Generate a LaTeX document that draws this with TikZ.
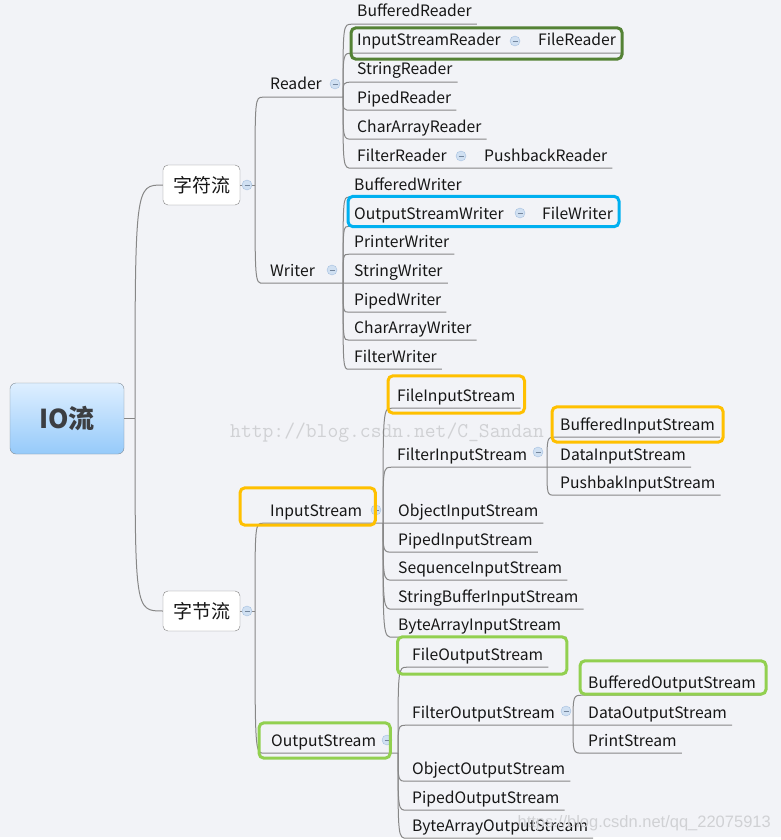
\documentclass[tikz,border=0pt]{standalone}
\usepackage{fontspec}
\setmainfont{Noto Sans CJK SC}
\newfontfamily\wmsans{Liberation Sans}
\usetikzlibrary{fit}

\definecolor{paper}{RGB}{242,243,247}
\definecolor{ink}{RGB}{22,22,22}
\definecolor{linkgray}{RGB}{135,135,135}
\definecolor{topicline}{RGB}{130,130,130}
\definecolor{roottop}{RGB}{222,239,255}
\definecolor{rootbot}{RGB}{150,202,250}
\definecolor{rootline}{RGB}{130,140,150}
\definecolor{rootink}{RGB}{60,62,66}
\definecolor{foldfill}{RGB}{208,224,242}
\definecolor{foldline}{RGB}{165,192,224}
\definecolor{hldark}{RGB}{84,130,53}
\definecolor{hlblue}{RGB}{0,176,240}
\definecolor{hlorange}{RGB}{255,192,0}
\definecolor{hllime}{RGB}{146,208,80}
\definecolor{wmgray}{RGB}{208,209,212}

\pgfdeclarelayer{back}
\pgfdeclarelayer{front}
\pgfsetlayers{back,main,front}

\tikzset{
  rootbox/.style={rounded corners=6pt, draw=rootline, top color=roottop, bottom color=rootbot,
    minimum width=114pt, minimum height=71pt, font=\fontsize{26}{30}\selectfont\bfseries, text=rootink},
  topic/.style={rounded corners=5pt, draw=topicline, fill=white, minimum width=77pt,
    minimum height=40pt, font=\fontsize{19}{22}\selectfont, text=ink},
  leaf/.style={anchor=base west, inner xsep=5pt, inner ysep=0pt, text height=12pt, text depth=7pt,
    font=\fontsize{15.7}{18}\selectfont, text=ink},
  mid/.style={leaf, inner xsep=7pt},
  link/.style={draw=linkgray, line width=1pt},
  collapse/.style={circle, draw=foldline, fill=foldfill, minimum size=10pt, inner sep=0pt,
    path picture={\draw[foldline!70!black, line width=0.8pt]
      ([xshift=-2.5pt]path picture bounding box.center) -- ([xshift=2.5pt]path picture bounding box.center);}},
  hlbox/.style={draw=#1, line width=3pt, rounded corners=5pt, inner sep=0pt},
  wmark/.style={inner sep=0pt, text=wmgray}
}

\begin{document}
\begin{tikzpicture}[x=1pt,y=-1pt]
    \begin{pgfonlayer}{back}
    \fill[paper] (0,0) rectangle (781,840);
    \fill[white] (0,837) rectangle (781,840);
    \node[wmark, anchor=base west, font=\ttfamily\fontsize{21}{24}\selectfont] (wmtop) at (230,437) {http://blog.csdn.net/C\_Sandan};
    \end{pgfonlayer}
    \useasboundingbox (0,0) rectangle (781,840);

    % root and the two main topics
    \node[rootbox] (root) at (67,418.5) {IO流};
    \node[topic] (zf) at (201.5,185) {字符流};
    \node[topic] (zj) at (201.5,611) {字节流};
    \coordinate (jroot) at (135,418.5);
    \coordinate (jzf) at (255,185);
    \coordinate (jzj) at (255,611);

    % Reader / Writer
    \node[mid] (rd) at (263,90) {Reader};
    \node[mid] (wr) at (263,276) {Writer};
    \coordinate (jrd) at (343,97);
    \coordinate (jwr) at (343,283);

    \node[leaf] (br) at (352,17) {BufferedReader};
    \node[leaf] (isr) at (352,46) {InputStreamReader};
    \node[leaf] (fr) at (533,46) {FileReader};
    \node[leaf] (sr) at (352,75) {StringReader};
    \node[leaf] (pr) at (352,103) {PipedReader};
    \node[leaf] (car) at (352,132) {CharArrayReader};
    \node[leaf] (flr) at (352,161) {FilterReader};
    \node[leaf] (pbr) at (479,161) {PushbackReader};

    \node[leaf] (bw) at (349,190) {BufferedWriter};
    \node[leaf] (osw) at (349,219) {OutputStreamWriter};
    \node[leaf] (fw) at (537,219) {FileWriter};
    \node[leaf] (pw) at (349,247) {PrinterWriter};
    \node[leaf] (sw) at (349,276) {StringWriter};
    \node[leaf] (pdw) at (349,305) {PipedWriter};
    \node[leaf] (caw) at (349,333) {CharArrayWriter};
    \node[leaf] (flw) at (349,362) {FilterWriter};

    % InputStream / OutputStream
    \node[mid] (ist) at (263,516) {InputStream};
    \node[mid] (ost) at (264,746) {OutputStream};
    \coordinate (jist) at (383,523);
    \coordinate (jost) at (398,753);
    \coordinate (jflis) at (547,467);
    \coordinate (jflos) at (573,725);

    \node[leaf] (fis) at (392,401) {FileInputStream};
    \node[leaf] (flis) at (392,460) {FilterInputStream};
    \node[leaf] (bis) at (555,430) {BufferedInputStream};
    \node[leaf] (dis) at (555,460) {DataInputStream};
    \node[leaf] (pis) at (555,488) {PushbakInputStream};
    \node[leaf] (ois) at (393,516) {ObjectInputStream};
    \node[leaf] (pdis) at (393,545) {PipedInputStream};
    \node[leaf] (sqis) at (393,573) {SequenceInputStream};
    \node[leaf] (sbis) at (393,602) {StringBufferInputStream};
    \node[leaf] (bais) at (393,630) {ByteArrayInputStream};

    \node[leaf] (fos) at (407,660) {FileOutputStream};
    \node[leaf] (flos) at (407,718) {FilterOutputStream};
    \node[leaf] (bos) at (583,688) {BufferedOutputStream};
    \node[leaf] (dos) at (583,718) {DataOutputStream};
    \node[leaf] (ps) at (583,746) {PrintStream};
    \node[leaf] (oos) at (407,774) {ObjectOutputStream};
    \node[leaf] (pdos) at (407,803) {PipedOutputStream};
    \node[leaf] (baos) at (407,831) {ByteArrayOutputStream};

    % connectors
    \draw[link] (root.east) -- (jroot);
    \draw[link] (jroot) .. controls (jroot |- zf.west) .. (zf.west);
    \draw[link] (jroot) .. controls (jroot |- zj.west) .. (zj.west);
    \draw[link] (zf.east) -- (jzf);
    \draw[link] (zj.east) -- (jzj);
    \draw[link] (jzf) .. controls (jzf |- rd.south west) .. (rd.south west) -- (jrd);
    \draw[link] (jzf) .. controls (jzf |- wr.south west) .. (wr.south west) -- (sw.south east);
    \draw[link] (jzj) .. controls (jzj |- ist.south west) .. (ist.south west) -- (ois.south east);
    \draw[link] (jzj) .. controls (jzj |- ost.south west) .. (ost.south west) -- (jost);

    \draw[link] (jrd) .. controls (jrd |- br.south west) .. (br.south west) -- (br.south east);
    \draw[link] (jrd) .. controls (jrd |- isr.south west) .. (isr.south west) -- (fr.south east);
    \draw[link] (jrd) .. controls (jrd |- sr.south west) .. (sr.south west) -- (sr.south east);
    \draw[link] (jrd) .. controls (jrd |- pr.south west) .. (pr.south west) -- (pr.south east);
    \draw[link] (jrd) .. controls (jrd |- car.south west) .. (car.south west) -- (car.south east);
    \draw[link] (jrd) .. controls (jrd |- flr.south west) .. (flr.south west) -- (pbr.south east);

    \draw[link] (jwr) .. controls (jwr |- bw.south west) .. (bw.south west) -- (bw.south east);
    \draw[link] (jwr) .. controls (jwr |- osw.south west) .. (osw.south west) -- (fw.south east);
    \draw[link] (jwr) .. controls (jwr |- pw.south west) .. (pw.south west) -- (pw.south east);
    \draw[link] (jwr) .. controls (jwr |- pdw.south west) .. (pdw.south west) -- (pdw.south east);
    \draw[link] (jwr) .. controls (jwr |- caw.south west) .. (caw.south west) -- (caw.south east);
    \draw[link] (jwr) .. controls (jwr |- flw.south west) .. (flw.south west) -- (flw.south east);

    \draw[link] (jist) .. controls (jist |- fis.south west) .. (fis.south west) -- (fis.south east);
    \draw[link] (jist) .. controls (jist |- flis.south west) .. (flis.south west) -- (dis.south east);
    \draw[link] (jist) .. controls (jist |- pdis.south west) .. (pdis.south west) -- (pdis.south east);
    \draw[link] (jist) .. controls (jist |- sqis.south west) .. (sqis.south west) -- (sqis.south east);
    \draw[link] (jist) .. controls (jist |- sbis.south west) .. (sbis.south west) -- (sbis.south east);
    \draw[link] (jist) .. controls (jist |- bais.south west) .. (bais.south west) -- (bais.south east);
    \draw[link] (jflis) .. controls (jflis |- bis.south west) .. (bis.south west) -- (bis.south east);
    \draw[link] (jflis) .. controls (jflis |- pis.south west) .. (pis.south west) -- (pis.south east);

    \draw[link] (jost) .. controls (jost |- fos.south west) .. (fos.south west) -- (fos.south east);
    \draw[link] (jost) .. controls (jost |- flos.south west) .. (flos.south west) -- (dos.south east);
    \draw[link] (jost) .. controls (jost |- oos.south west) .. (oos.south west) -- (oos.south east);
    \draw[link] (jost) .. controls (jost |- pdos.south west) .. (pdos.south west) -- (pdos.south east);
    \draw[link] (jost) .. controls (jost |- baos.south west) .. (baos.south west) -- (baos.south east);
    \draw[link] (jflos) .. controls (jflos |- bos.south west) .. (bos.south west) -- (bos.south east);
    \draw[link] (jflos) .. controls (jflos |- ps.south west) .. (ps.south west) -- (ps.south east);

    % collapse marks
    \node[collapse] (czf) at (247,185) {};
    \node[collapse] (czj) at (247,611) {};
    \node[collapse] (crd) at (335,84) {};
    \node[collapse] (cwr) at (332,270) {};
    \node[collapse] (cisr) at (515,41) {};
    \node[collapse] (cflr) at (461,156) {};
    \node[collapse] (cosw) at (520,213) {};
    \node[collapse] (cist) at (376,510) {};
    \node[collapse] (cflis) at (538,452) {};
    \node[collapse] (cost) at (387,740) {};
    \node[collapse] (cflos) at (566,711) {};

    % highlight boxes
    \node[hlbox=hldark, fit=(isr)(fr), inner xsep=1pt, inner ysep=6pt] (hisr) {};
    \node[hlbox=hlblue, fit=(osw)(fw), inner xsep=1pt, inner ysep=5.5pt, yshift=5pt] (hosw) {};
    \node[hlbox=hlorange, fit=(fis), inner xsep=4pt, inner ysep=9pt, yshift=4pt] (hfis) {};
    \node[hlbox=hlorange, fit=(bis), inner xsep=3pt, inner ysep=8pt, yshift=3pt] (hbis) {};
    \node[hlbox=hlorange, fit=(ist), inner xsep=14.5pt, inner ysep=9pt, xshift=-8.5pt, yshift=7pt] (hist) {};
    \node[hlbox=hllime, fit=(ost), inner xsep=6pt, inner ysep=8pt, xshift=1pt, yshift=3pt] (host) {};
    \node[hlbox=hllime, fit=(fos), inner xsep=14pt, inner ysep=9pt, xshift=4.5pt, yshift=2pt] (hfos) {};
    \node[hlbox=hllime, fit=(bos), inner xsep=4pt, inner ysep=7pt, xshift=1pt, yshift=8pt] (hbos) {};

    \begin{pgfonlayer}{front}
    \node[wmark, anchor=base east, font=\wmsans\fontsize{16.5}{19}\selectfont] (wmbot) at (771,827) {https://blog.csdn.net/qq\_22075913};
    \end{pgfonlayer}
\end{tikzpicture}
\end{document}
